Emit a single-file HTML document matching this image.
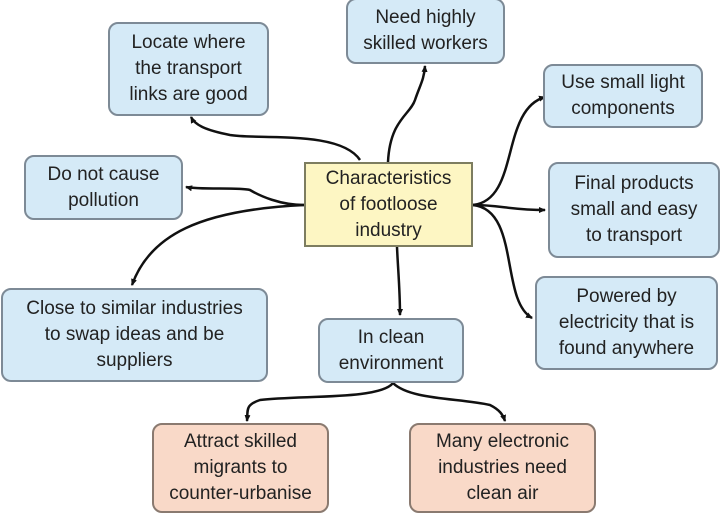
<!DOCTYPE html>
<html><head><meta charset="utf-8"><style>
body{margin:0;width:720px;height:518px;background:#fff;overflow:hidden;position:relative;font-family:"Liberation Sans",sans-serif}
.b{position:absolute;box-sizing:border-box;border:2px solid #7d8a96;border-radius:10px;background:#d5eaf7;color:#222;font-size:19px;line-height:26px;text-align:center;display:flex;align-items:center;justify-content:center}
.o{background:#f9d9c8;border-color:#8a7a70}
.c{background:#fdf6c3;border-radius:0;border-color:#7d7d60}
svg{position:absolute;left:0;top:0}
</style></head><body>
<svg width="720" height="518" fill="none" stroke="#111" stroke-width="2.5">
<defs><marker id="a" markerUnits="userSpaceOnUse" markerWidth="8" markerHeight="8" refX="6" refY="4" orient="auto"><path d="M0,1 L7,4 L0,7 z" fill="#111" stroke="none"/></marker></defs>
<path d="M304,205 C280,205 260,196 250,190 C240,187 200,190 186,187" marker-end="url(#a)"/>
<path d="M360,160 C340,130 260,140 230,135 C205,130 195,125 191,117" marker-end="url(#a)"/>
<path d="M388,162 C390,120 410,115 415,100 C420,85 424,80 425,66" marker-end="url(#a)"/>
<path d="M473,205 C520,200 500,110 545,97" marker-end="url(#a)"/>
<path d="M473,205 C500,205 510,210 545,210" marker-end="url(#a)"/>
<path d="M473,205 C520,210 500,300 532,318" marker-end="url(#a)"/>
<path d="M304,205 C200,210 150,235 132,285" marker-end="url(#a)"/>
<path d="M397,247 C398,270 400,290 400,315" marker-end="url(#a)"/>
<path d="M393,383 C380,400 300,395 260,400 C245,405 248,410 247,421" marker-end="url(#a)"/>
<path d="M393,383 C410,400 460,398 490,405 C500,410 503,415 505,421" marker-end="url(#a)"/>
</svg>
<div class="b" style="left:108px;top:22px;width:161px;height:94px">Locate where<br>the transport<br>links are good</div>
<div class="b" style="left:346px;top:-2px;width:159px;height:66px">Need highly<br>skilled workers</div>
<div class="b" style="left:543px;top:64px;width:160px;height:64px">Use small light<br>components</div>
<div class="b" style="left:24px;top:155px;width:159px;height:65px">Do not cause<br>pollution</div>
<div class="b c" style="left:304px;top:162px;width:169px;height:85px">Characteristics<br>of footloose<br>industry</div>
<div class="b" style="left:548px;top:162px;width:172px;height:96px">Final products<br>small and easy<br>to transport</div>
<div class="b" style="left:1px;top:288px;width:267px;height:94px">Close to similar industries<br>to swap ideas and be<br>suppliers</div>
<div class="b" style="left:318px;top:318px;width:146px;height:65px">In clean<br>environment</div>
<div class="b" style="left:535px;top:276px;width:183px;height:94px">Powered by<br>electricity that is<br>found anywhere</div>
<div class="b o" style="left:152px;top:423px;width:177px;height:90px">Attract skilled<br>migrants to<br>counter-urbanise</div>
<div class="b o" style="left:409px;top:423px;width:187px;height:90px">Many electronic<br>industries need<br>clean air</div>
</body></html>
